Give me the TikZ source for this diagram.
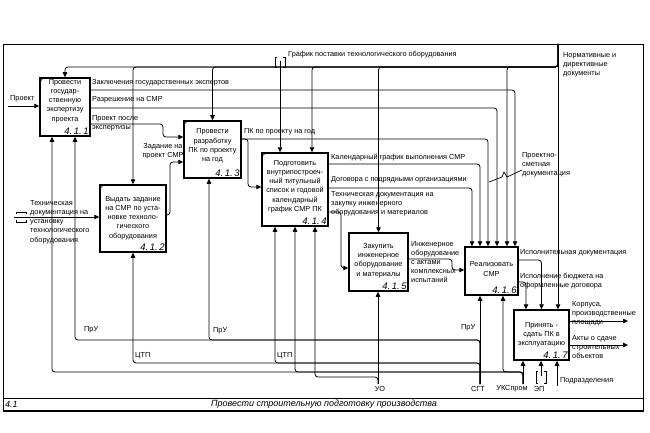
\documentclass[tikz,border=0pt]{standalone}
\usepackage{fontspec}
\setmainfont{Liberation Sans}
\usetikzlibrary{arrows.meta}

\begin{document}
\begin{tikzpicture}[x=1pt,y=-1pt,
		box/.style={draw, line width=1.5pt, inner sep=0},
		btxt/.style={font=\fontsize{7.3}{9.2}\selectfont, align=center, inner sep=0},
		num/.style={font=\fontsize{9.5}{9.5}\selectfont\itshape, anchor=south east, inner sep=2pt},
		lbl/.style={font=\fontsize{7.3}{9.2}\selectfont, align=left, inner sep=0, anchor=west},
		flow/.style={-{Triangle[length=5pt,width=4.5pt]}, line width=0.8pt, rounded corners=3pt},
		tun/.style={line width=0.8pt}]
		\useasboundingbox (0,0) rectangle (650,433);
		\draw[line width=0.8pt] (3,44) rectangle (643,411);
		\draw[line width=0.9pt] (3,398) -- (643,398);
		\draw[line width=1.3pt] (3,411) -- (643,411);
		\node[font=\fontsize{9}{9}\selectfont\itshape, anchor=west, inner sep=0] (nd) at (5,404) {4.1};
		\node[font=\fontsize{9}{9}\selectfont\itshape, inner sep=0] (ttl) at (324,404) {Провести строительную подготовку производства};

		\node[box, minimum width=50, minimum height=58] (b1) at (65,107) {};
		\node[box, minimum width=66, minimum height=67] (b2) at (133,218.5) {};
		\node[box, minimum width=57, minimum height=57] (b3) at (212.5,149.5) {};
		\node[box, minimum width=66, minimum height=73] (b4) at (295,189.5) {};
		\node[box, minimum width=59, minimum height=58] (b5) at (378.5,262) {};
		\node[box, minimum width=53, minimum height=48] (b6) at (491.5,271) {};
		\node[box, minimum width=55, minimum height=50] (b7) at (541.5,335) {};
		\foreach \b in {b1,b2,b3,b4}
			\draw[line width=0.7pt] ([yshift=-5]\b.north west) -- ([xshift=5]\b.north west);

		\node[btxt] (t1) at (65,101) {Провести\\государ-\\ственную\\экспертизу\\проекта};
		\node[btxt] (t2) at (133,218) {Выдать задание\\на СМР по уста-\\новке техноло-\\гического\\оборудования};
		\node[btxt] (t3) at (212.5,146) {Провести\\разработку\\ПК по проекту\\на год};
		\node[btxt] (t4) at (295,186.5) {Подготовить\\внутрипостроеч-\\ный титульный\\список и годовой\\календарный\\график СМР ПК};
		\node[btxt] (t5) at (378.5,260.5) {Закупить\\инженерное\\оборудование\\и материалы};
		\node[btxt] (t6) at (491.5,269) {Реализовать\\СМР};
		\node[btxt] (t7) at (541.5,334.5) {Принять -\\сдать ПК в\\эксплуатацию};
		\node[num] (n1) at (b1.south east) {4.\,1.\,1};
		\node[num] (n2) at (b2.south east) {4.\,1.\,2};
		\node[num] (n3) at (b3.south east) {4.\,1.\,3};
		\node[num] (n4) at (b4.south east) {4.\,1.\,4};
		\node[num] (n5) at (b5.south east) {4.\,1.\,5};
		\node[num] (n6) at (b6.south east) {4.\,1.\,6};
		\node[num] (n7) at (b7.south east) {4.\,1.\,7};

		\coordinate (prj) at (8,106);
		\coordinate (tdoc) at (14,217);
		\coordinate (grf) at (280,61);
		\coordinate (nrm) at (558,44);
		\coordinate (uo) at (378,384);
		\coordinate (sgt) at (480,384);
		\coordinate (uks) at (523,384);
		\coordinate (ep) at (541,376);
		\coordinate (pod) at (557,386);
		\coordinate (kor) at (628,321);
		\coordinate (akt) at (628,345);
		\coordinate (psd) at (489,182);

		\draw[flow] (prj) -- (b1.west |- prj);
		\draw[flow] (tdoc) -- (b2.west |- tdoc);
		\draw[tun] (16,214) -- (16,212) -- (26,212) -- (26,214);
		\draw[tun] (16,220) -- (16,222) -- (26,222) -- (26,220);
		\draw[flow] (b1.east |- 0,90) -| ([xshift=23.5]b6.north);
		\draw[flow] (b1.east |- 0,108) -| ([xshift=5.5]b6.north);
		\draw[flow] (b1.east |- 0,124) -| (163,137) -- (b3.west |- 0,137);
		\draw[flow] (b2.east |- 0,215) -| (170,162) -- (b3.west |- 0,162);
		\draw[flow] (b3.east |- 0,139) -| ([xshift=-3.5]b6.north);
		\draw[flow] (b3.east |- 0,139) -| (248,187) -- (b4.west |- 0,187);
		\draw[flow] (b4.east |- 0,164) -| ([xshift=-11.5]b6.north);
		\draw[flow] (b4.east |- 0,188) -| ([xshift=-19.5]b6.north);
		\draw[flow] (b4.east |- 0,212) -| (341,268) -- (b5.west |- 0,268);
		\draw[flow] (b5.east |- 0,259) -| (452,270) -- (b6.west |- 0,270);
		\draw[flow] (b6.east |- 0,260) -| (b7.north);
		\draw[flow] (b6.east |- 0,282) -| ([xshift=-15.5]b7.north);
		\draw[flow] (b7.east |- kor) -- (kor);
		\draw[flow] (b7.east |- akt) -- (akt);

		\draw[flow] (nrm) -- (b7.north -| nrm);
		\draw[flow] (nrm) |- (b1.north |- 0,67) -- (b1.north);
		\draw[flow] (nrm) |- (b2.north |- 0,67) -- (b2.north);
		\draw[flow] (nrm) |- (b3.north |- 0,67) -- (b3.north);
		\draw[flow] (nrm) |- (312,67) -- ([xshift=17]b4.north);
		\draw[flow] (nrm) |- (b5.north |- 0,67) -- (b5.north);
		\draw[flow] (nrm) |- (507,67) -- ([xshift=15.5]b6.north);
		\draw[flow] (grf) -- (b4.north -| grf);
		\draw[tun] (277,57) -- (275,57) -- (275,67) -- (277,67);
		\draw[tun] (283,57) -- (285,57) -- (285,67) -- (283,67);

		\draw[flow] (uo) -- (b5.south -| uo);
		\draw[flow] (uo) |- (315,377) -- ([xshift=20]b4.south);
		\draw[flow] (sgt) -- (b6.south -| sgt);
		\draw[flow] (sgt) |- (209,340) -- ([xshift=-3.5]b3.south);
		\draw[flow] (sgt) |- (75,340) -- ([xshift=10]b1.south);
		\draw[flow] (sgt) |- (275,363) -- ([xshift=-20]b4.south);
		\draw[flow] (sgt) |- (133,363) -- (b2.south);
		\draw[flow] (uks) -- (b7.south -| uks);
		\draw[flow] (uks) |- (503,372) -- ([xshift=11.5]b6.south);
		\draw[flow] (uks) |- (295,372) -- (b4.south);
		\draw[flow] (uks) |- (52,372) -- ([xshift=-13]b1.south);
		\draw[flow] (ep) -- (b7.south -| ep);
		\draw[tun] (538,371) -- (536,371) -- (536,383) -- (538,383);
		\draw[tun] (544,371) -- (546,371) -- (546,383) -- (544,383);
		\draw[flow] (pod) -- (b7.south -| pod);

		\node[lbl] (lprj) at (10,99) {Проект};
		\node[lbl] (ltdoc) at (30,222) {Техническая\\документация на\\установку\\технологического\\оборудования};
		\node[lbl] (lzak) at (92,83) {Заключения государственных экспертов};
		\node[lbl] (lraz) at (92,100) {Разрешение на СМР};
		\node[lbl] (lppe) at (92,123) {Проект после\\экспертизы};
		\node[btxt] (lzad) at (163,151) {Задание на\\проект СМР};
		\node[lbl] (lpk) at (244,132) {ПК по проекту на год};
		\node[lbl] (lkal) at (331,158) {Календарный график выполнения СМР};
		\node[lbl] (ldog) at (331,180) {Договора с подрядными организациями};
		\node[lbl] (ltzak) at (331,204) {Техническая документация на\\закупку инженерного\\оборудования и материалов};
		\node[lbl] (ling) at (411,262) {Инженерное\\оборудование\\с актами\\комплексных\\испытаний};
		\node[lbl] (lisp) at (520,253) {Исполнительная документация};
		\node[lbl] (lbud) at (520,281) {Исполнение бюджета на\\оформленные договора};
		\node[lbl] (lkor) at (572,314) {Корпуса,\\производственные\\площади};
		\node[lbl] (lakt) at (572,347) {Акты о сдаче\\строительных\\объектов};
		\node[lbl] (lnrm) at (563,65) {Нормативные и\\директивные\\документы};
		\node[lbl] (lgrf) at (288,55) {График поставки технологического оборудования};
		\node[lbl] (lpsd) at (522,165) {Проектно-\\сметная\\документация};
		\draw[line width=0.7pt] (psd) -- (502,177) -- (504,172) -- (507,177) -- ([yshift=-5]lpsd.west);
		\node[lbl] (lpru1) at (84,330) {ПрУ};
		\node[lbl] (lpru2) at (213,331) {ПрУ};
		\node[lbl] (lpru3) at (461,328) {ПрУ};
		\node[lbl] (lctp1) at (135,356) {ЦТП};
		\node[lbl] (lctp2) at (277,356) {ЦТП};
		\node[lbl, anchor=center] (luo) at (380,389) {УО};
		\node[lbl, anchor=center] (lsgt) at (478,389) {СГТ};
		\node[lbl, anchor=center] (luks) at (512,389) {УКСпром};
		\node[lbl, anchor=center] (lep) at (539,389) {ЭП};
		\node[lbl] (lpod) at (560,381) {Подразделения};
	\end{tikzpicture}
\end{document}
